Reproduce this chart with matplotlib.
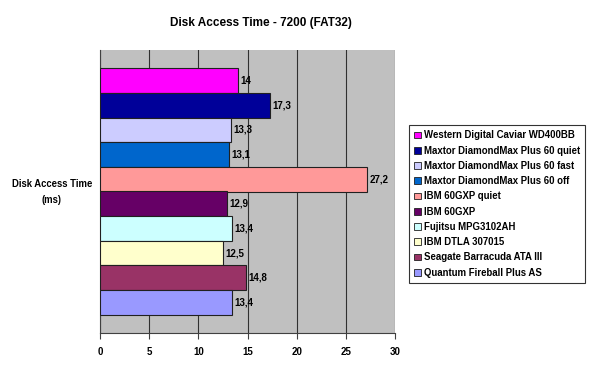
import matplotlib
matplotlib.use("Agg")
import matplotlib.pyplot as plt
from matplotlib.patches import Patch

plt.rcParams['font.family'] = ['Liberation Sans', 'DejaVu Sans']

drives = ["Western Digital Caviar WD400BB", "Maxtor DiamondMax Plus 60 quiet",
          "Maxtor DiamondMax Plus 60 fast", "Maxtor DiamondMax Plus 60 off",
          "IBM 60GXP quiet", "IBM 60GXP", "Fujitsu MPG3102AH", "IBM DTLA 307015",
          "Seagate Barracuda ATA III", "Quantum Fireball Plus AS"]
values = [14, 17.3, 13.3, 13.1, 27.2, 12.9, 13.4, 12.5, 14.8, 13.4]
colors = ["#FF00FF", "#000099", "#CCCCFF", "#0066CC", "#FF9999",
          "#660066", "#CCFFFF", "#FFFFCC", "#993366", "#9999FF"]
xticks = [0, 5, 10, 15, 20, 25, 30]

fig = plt.figure(figsize=(5.9, 3.67), dpi=100)
ax = fig.add_axes([100/590, 1-333/367, 295/590, 283/367])
ax.set_facecolor("#C0C0C0")

n = len(values)
ypos = [n - 1 - i for i in range(n)]
ax.barh(ypos, values, height=1.0, color=colors, edgecolor="#202020", linewidth=0.8, zorder=3)
for y, v in zip(ypos, values):
    ax.text(v + 0.25, y, f"{v:g}".replace(".", ","), va="center", ha="left",
            fontsize=7, fontweight="bold", zorder=4)

ax.set_xlim(0, 30)
ax.set_ylim(-0.5 - 0.75, n - 0.5 + 0.75)
ax.set_xticks(xticks)
ax.set_xticklabels([str(t) for t in xticks], fontsize=7, fontweight="bold")
ax.set_yticks([])
ax.xaxis.grid(True, color="#303030", linewidth=0.8, zorder=1)
ax.tick_params(axis="x", direction="out", length=4, width=0.8, color="#404040", pad=6)
for s in ["top", "right"]:
    ax.spines[s].set_visible(False)
ax.spines["left"].set_color("#404040")
ax.spines["bottom"].set_color("#404040")

fig.text(261/590, 1-23/367, "Disk Access Time - 7200 (FAT32)", ha="center", va="center",
         fontsize=8.5, fontweight="bold")
fig.text(52/590, 1-192/367, "Disk Access Time\n(ms)", ha="center", va="center",
         fontsize=6.85, fontweight="bold", linespacing=1.7)

handles = [Patch(facecolor=c, edgecolor="#202020", linewidth=0.6) for c in colors]
leg = fig.legend(handles, drives, loc="center", bbox_to_anchor=(497/590, 1-204/367),
                 frameon=True, fancybox=False, handlelength=0.7,
                 handleheight=0.7, handletextpad=0.3, labelspacing=0.55,
                 borderpad=0.5, borderaxespad=0, prop={'weight': 'bold', 'size': 6.9})
leg.get_frame().set_edgecolor("#000000")
leg.get_frame().set_linewidth(0.8)

fig.savefig("out.png", dpi=100)
